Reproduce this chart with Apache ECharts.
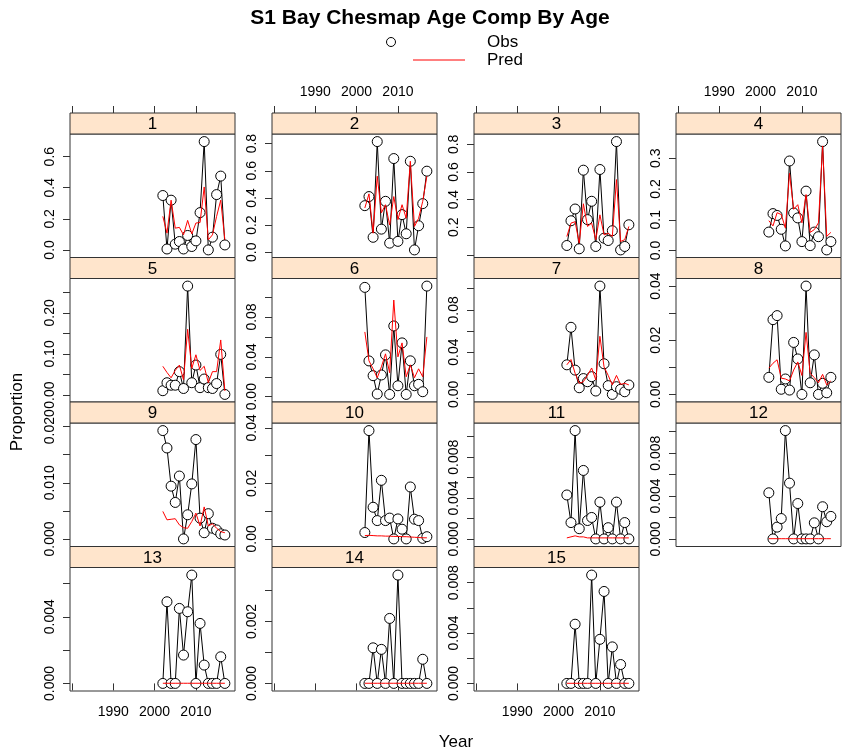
<!DOCTYPE html>
<html>
<head>
<meta charset="utf-8">
<script src="https://cdn.jsdelivr.net/npm/echarts@6.0.0/dist/echarts.min.js"></script>
<style>html,body{margin:0;padding:0;background:#fff}#chart{width:844px;height:755px}</style>
</head>
<body>
<div id="chart"></div>
<script>
var years = [2002,2003,2004,2005,2006,2007,2008,2009,2010,2011,2012,2013,2014,2015,2016,2017];

// observed / predicted proportions, one pair per age
var obs1 = [0.35,0.006,0.32,0.037,0.054,0.006,0.093,0.022,0.058,0.24,0.697,0.0,0.082,0.356,0.475,0.032];
var pred1 = [0.216,0.108,0.32,0.14,0.145,0.097,0.19,0.103,0.173,0.176,0.405,0.065,0.097,0.216,0.32,0.065];
var obs2 = [0.343,0.41,0.11,0.815,0.17,0.375,0.067,0.69,0.08,0.277,0.136,0.67,0.017,0.195,0.358,0.597];
var pred2 = [0.326,0.43,0.14,0.56,0.29,0.35,0.2,0.41,0.24,0.35,0.25,0.67,0.19,0.25,0.375,0.56];
var obs3 = [0.068,0.247,0.332,0.044,0.613,0.255,0.388,0.061,0.618,0.121,0.104,0.175,0.82,0.036,0.061,0.218];
var pred3 = [0.133,0.23,0.24,0.085,0.37,0.206,0.23,0.11,0.29,0.145,0.157,0.133,0.545,0.097,0.11,0.206];
var obs4 = [0.060,0.12,0.114,0.069,0.015,0.291,0.122,0.106,0.029,0.193,0.016,0.060,0.045,0.354,0.002,0.029];
var pred4 = [0.097,0.08,0.123,0.117,0.073,0.251,0.134,0.149,0.09,0.182,0.059,0.068,0.09,0.340,0.046,0.059];
var obs5 = [0.0106,0.030,0.024,0.024,0.057,0.016,0.265,0.030,0.073,0.018,0.039,0.018,0.016,0.028,0.099,0.0016];
var pred5 = [0.07,0.055,0.042,0.06,0.073,0.037,0.16,0.065,0.098,0.06,0.07,0.03,0.057,0.057,0.134,0.01];
var obs6 = [0.1097,0.0359,0.0211,0.0027,0.0218,0.042,0.0023,0.071,0.011,0.054,0.0023,0.036,0.011,0.0124,0.005,0.111];
var pred6 = [0.065,0.036,0.028,0.019,0.03,0.043,0.024,0.097,0.04,0.054,0.02,0.032,0.019,0.028,0.02,0.06];
var obs7 = [0.028,0.0635,0.023,0.0063,0.015,0.012,0.0168,0.0032,0.1025,0.029,0.0083,0.0,0.0073,0.0048,0.0025,0.0089];
var pred7 = [0.028,0.033,0.02,0.0105,0.012,0.018,0.025,0.0137,0.055,0.026,0.018,0.009,0.018,0.0095,0.0105,0.009];
var obs8 = [0.0063,0.0276,0.0291,0.0019,0.0057,0.0016,0.0192,0.0131,0.0,0.040,0.0043,0.0146,0.0,0.0041,0.0006,0.0063];
var pred8 = [0.0097,0.0115,0.0128,0.006,0.0057,0.005,0.009,0.012,0.007,0.0229,0.0078,0.0062,0.0043,0.0074,0.0035,0.005];
var obs9 = [0.0193,0.0162,0.0094,0.0065,0.0112,0.0,0.0043,0.0098,0.0177,0.0037,0.0011,0.0045,0.0019,0.0016,0.0009,0.0007];
var pred9 = [0.0049,0.0034,0.0035,0.0036,0.0025,0.0020,0.0019,0.0031,0.0046,0.0023,0.0057,0.0023,0.0027,0.0019,0.0013,0.0011];
var obs10 = [0.0023,0.039,0.0114,0.0066,0.0211,0.0066,0.0075,0.0,0.0072,0.0035,0.0,0.0187,0.0071,0.0066,0.0002,0.0008];
var pred10 = [0.0012,0.0013,0.0012,0.0011,0.0011,0.001,0.001,0.0009,0.0009,0.0008,0.0008,0.0007,0.0006,0.0005,0.0004,0.0004];
var obs11 = [0.0043,0.0016,0.0106,0.001,0.0067,0.0018,0.0021,0.0,0.0036,0.0,0.0011,0.0,0.0036,0.0,0.0016,0.0];
var pred11 = [0.0001,0.0002,0.0003,0.0002,0.0002,0.0001,0.0001,0.0001,0.0001,0.0001,0.0001,0.0001,0.0001,0.0001,0.0001,0.0001];
var obs12 = [0.0043,0.0,0.0011,0.0019,0.0101,0.0052,0.0,0.0033,0.0,0.0,0.0,0.0015,0.0,0.003,0.0016,0.0021];
var pred12 = [0.00002,0.00002,0.00002,0.00002,0.00002,0.00002,0.00002,0.00002,0.00002,0.00002,0.00002,0.00002,0.00002,0.00002,0.00002,0.00002];
var obs13 = [0,0.0049,0,0,0.0045,0.0017,0.0043,0.0065,0,0.0036,0.0011,0,0,0,0.0016,0];
var pred13 = [0.00001,0.00001,0.00001,0.00001,0.00001,0.00001,0.00001,0.00001,0.00001,0.00001,0.00001,0.00001,0.00001,0.00001,0.00001,0.00001];
var obs14 = [0,0,0.00115,0,0.0011,0,0.0021,0,0.0035,0,0,0,0,0,0.00078,0];
var pred14 = [0.000005,0.000005,0.000005,0.000005,0.000005,0.000005,0.000005,0.000005,0.000005,0.000005,0.000005,0.000005,0.000005,0.000005,0.000005,0.000005];
var obs15 = [0,0,0.0047,0,0,0,0.0086,0,0.0035,0.0073,0,0.0029,0,0.0015,0,0];
var pred15 = [0.00001,0.00001,0.00001,0.00001,0.00001,0.00001,0.00001,0.00001,0.00001,0.00001,0.00001,0.00001,0.00001,0.00001,0.00001,0.00001];

var obsAll = [obs1,obs2,obs3,obs4,obs5,obs6,obs7,obs8,obs9,obs10,obs11,obs12,obs13,obs14,obs15];
var predAll = [pred1,pred2,pred3,pred4,pred5,pred6,pred7,pred8,pred9,pred10,pred11,pred12,pred13,pred14,pred15];

// y ticks and the ticks that carry a label, per panel
var yTicks = [
  [0,0.2,0.4,0.6],[0,0.2,0.4,0.6,0.8],[0,0.2,0.4,0.6,0.8],[0,0.1,0.2,0.3],
  [0,0.05,0.1,0.15,0.2,0.25],[0,0.02,0.04,0.06,0.08,0.1],[0,0.02,0.04,0.06,0.08,0.1],[0,0.01,0.02,0.03,0.04],
  [0,0.005,0.01,0.015,0.02],[0,0.01,0.02,0.03,0.04],[0,0.002,0.004,0.006,0.008,0.01],[0,0.002,0.004,0.006,0.008,0.01],
  [0,0.002,0.004,0.006],[0,0.001,0.002,0.003],[0,0.002,0.004,0.006,0.008]
];
var yLabels = [
  [0,0.2,0.4,0.6],[0,0.2,0.4,0.6,0.8],[0.2,0.4,0.6,0.8],[0,0.1,0.2,0.3],
  [0,0.1,0.2],[0,0.04,0.08],[0,0.04,0.08],[0,0.02,0.04],
  [0,0.01,0.02],[0,0.02,0.04],[0,0.004,0.008],[0,0.004,0.008],
  [0,0.004],[0,0.002],[0,0.004,0.008]
];
var yDigits = [1,1,1,1,2,2,2,2,3,2,3,3,3,3,3];
var xTicks = [1980,1990,2000,2010];
var xLabels = [1990,2000,2010];

var FONT = 'Liberation Sans, Arial, sans-serif';
var colLeft = [70, 272, 474, 676];
var rowTop = [113, 257.5, 402, 546.5];
var panelW = 165, stripH = 21, plotH = 123.5;
var xMin = 1979.55, xMax = 2019.45;

function yearLabel(v) { return String(Math.round(v)); }

function buildOption() {
  var grids = [], xAxes = [], yAxes = [], series = [], graphics = [];
  for (var i = 0; i < 15; i++) {
    var row = Math.floor(i / 4), col = i % 4;
    var gLeft = colLeft[col], gTop = rowTop[row] + stripH;
    grids.push({left: gLeft, top: gTop, width: panelW, height: plotH,
      show: true, borderColor: '#333', borderWidth: 1});

    var bottomRow = row === 3;
    xAxes.push({
      gridIndex: i, type: 'value', min: xMin, max: xMax, position: 'bottom',
      show: bottomRow,
      axisLine: {show: false}, splitLine: {show: false},
      axisTick: {show: true, length: 7, lineStyle: {color: '#333'}, customValues: xTicks},
      axisLabel: {show: bottomRow && col % 2 === 0, customValues: xLabels, margin: 14,
        color: '#000', fontSize: 14, fontFamily: FONT, formatter: yearLabel}
    });

    var all = obsAll[i].concat(predAll[i]);
    var lo = Math.min.apply(null, all), hi = Math.max.apply(null, all);
    var pad = 0.07 * (hi - lo);
    var yMin = lo - pad, yMax = hi + pad;
    var inRange = function (v) { return v >= yMin && v <= yMax; };
    yAxes.push({
      gridIndex: i, type: 'value', min: yMin, max: yMax, position: 'left',
      axisLine: {show: false}, splitLine: {show: false},
      axisTick: {show: true, length: 7, lineStyle: {color: '#333'}, customValues: yTicks[i].filter(inRange)},
      axisLabel: {show: true, rotate: 90, margin: 13, color: '#000', fontSize: 14, fontFamily: FONT,
        customValues: yLabels[i].filter(inRange),
        formatter: (function (d) { return function (v) { return v.toFixed(d); }; })(yDigits[i])}
    });

    series.push({
      name: 'Obs', type: 'line', xAxisIndex: i, yAxisIndex: i,
      data: years.map(function (y, k) { return [y, obsAll[i][k]]; }),
      symbol: 'circle', symbolSize: 10, showAllSymbol: true,
      lineStyle: {color: '#000', width: 1},
      itemStyle: {color: '#fff', borderColor: '#000', borderWidth: 1},
      emphasis: {disabled: true}, z: 2
    });
    series.push({
      name: 'Pred', type: 'line', xAxisIndex: i, yAxisIndex: i,
      data: years.map(function (y, k) { return [y, predAll[i][k]]; }),
      showSymbol: false, symbol: 'none',
      lineStyle: {color: '#ff0000', width: 1},
      emphasis: {disabled: true}, z: 3
    });

    // strip with the age
    graphics.push({type: 'rect', shape: {x: gLeft, y: rowTop[row], width: panelW, height: stripH},
      style: {fill: '#ffe5cc', stroke: '#333', lineWidth: 1}, z: 10});
    graphics.push({type: 'text', x: gLeft + panelW / 2, y: rowTop[row] + stripH / 2 + 1, z: 11,
      style: {text: String(i + 1), fill: '#000', font: '17px ' + FONT, align: 'center', verticalAlign: 'middle'}});
  }

  // top year axes above the first row of strips
  for (var c = 0; c < 4; c++) {
    xAxes.push({
      gridIndex: c, type: 'value', min: xMin, max: xMax, position: 'top', offset: stripH,
      axisLine: {show: false}, splitLine: {show: false},
      axisTick: {show: true, length: 7, lineStyle: {color: '#333'}, customValues: xTicks},
      axisLabel: {show: c % 2 === 1, customValues: xLabels, margin: 14,
        color: '#000', fontSize: 14, fontFamily: FONT, formatter: yearLabel}
    });
  }

  graphics.push(
    {type: 'text', x: 430, y: 18, style: {text: 'S1 Bay Chesmap Age Comp By Age', fill: '#000',
      font: 'bold 21px ' + FONT, align: 'center', verticalAlign: 'middle'}},
    {type: 'circle', shape: {cx: 391, cy: 42, r: 4.5}, style: {fill: 'none', stroke: '#000', lineWidth: 1}},
    {type: 'text', x: 487, y: 42, style: {text: 'Obs', fill: '#000', font: '17px ' + FONT, align: 'left', verticalAlign: 'middle'}},
    {type: 'line', shape: {x1: 413, y1: 60, x2: 465, y2: 60}, style: {stroke: '#ff0000', lineWidth: 1}},
    {type: 'text', x: 487, y: 60, style: {text: 'Pred', fill: '#000', font: '17px ' + FONT, align: 'left', verticalAlign: 'middle'}},
    {type: 'text', x: 17, y: 412, rotation: Math.PI / 2, style: {text: 'Proportion', fill: '#000',
      font: '17px ' + FONT, align: 'center', verticalAlign: 'middle'}},
    {type: 'text', x: 456, y: 742, style: {text: 'Year', fill: '#000', font: '17px ' + FONT, align: 'center', verticalAlign: 'middle'}}
  );

  return {animation: false, backgroundColor: '#fff', grid: grids, xAxis: xAxes, yAxis: yAxes,
    series: series, graphic: graphics};
}

var myChart = echarts.init(document.getElementById('chart'));
myChart.setOption(buildOption());
</script>
</body>
</html>
